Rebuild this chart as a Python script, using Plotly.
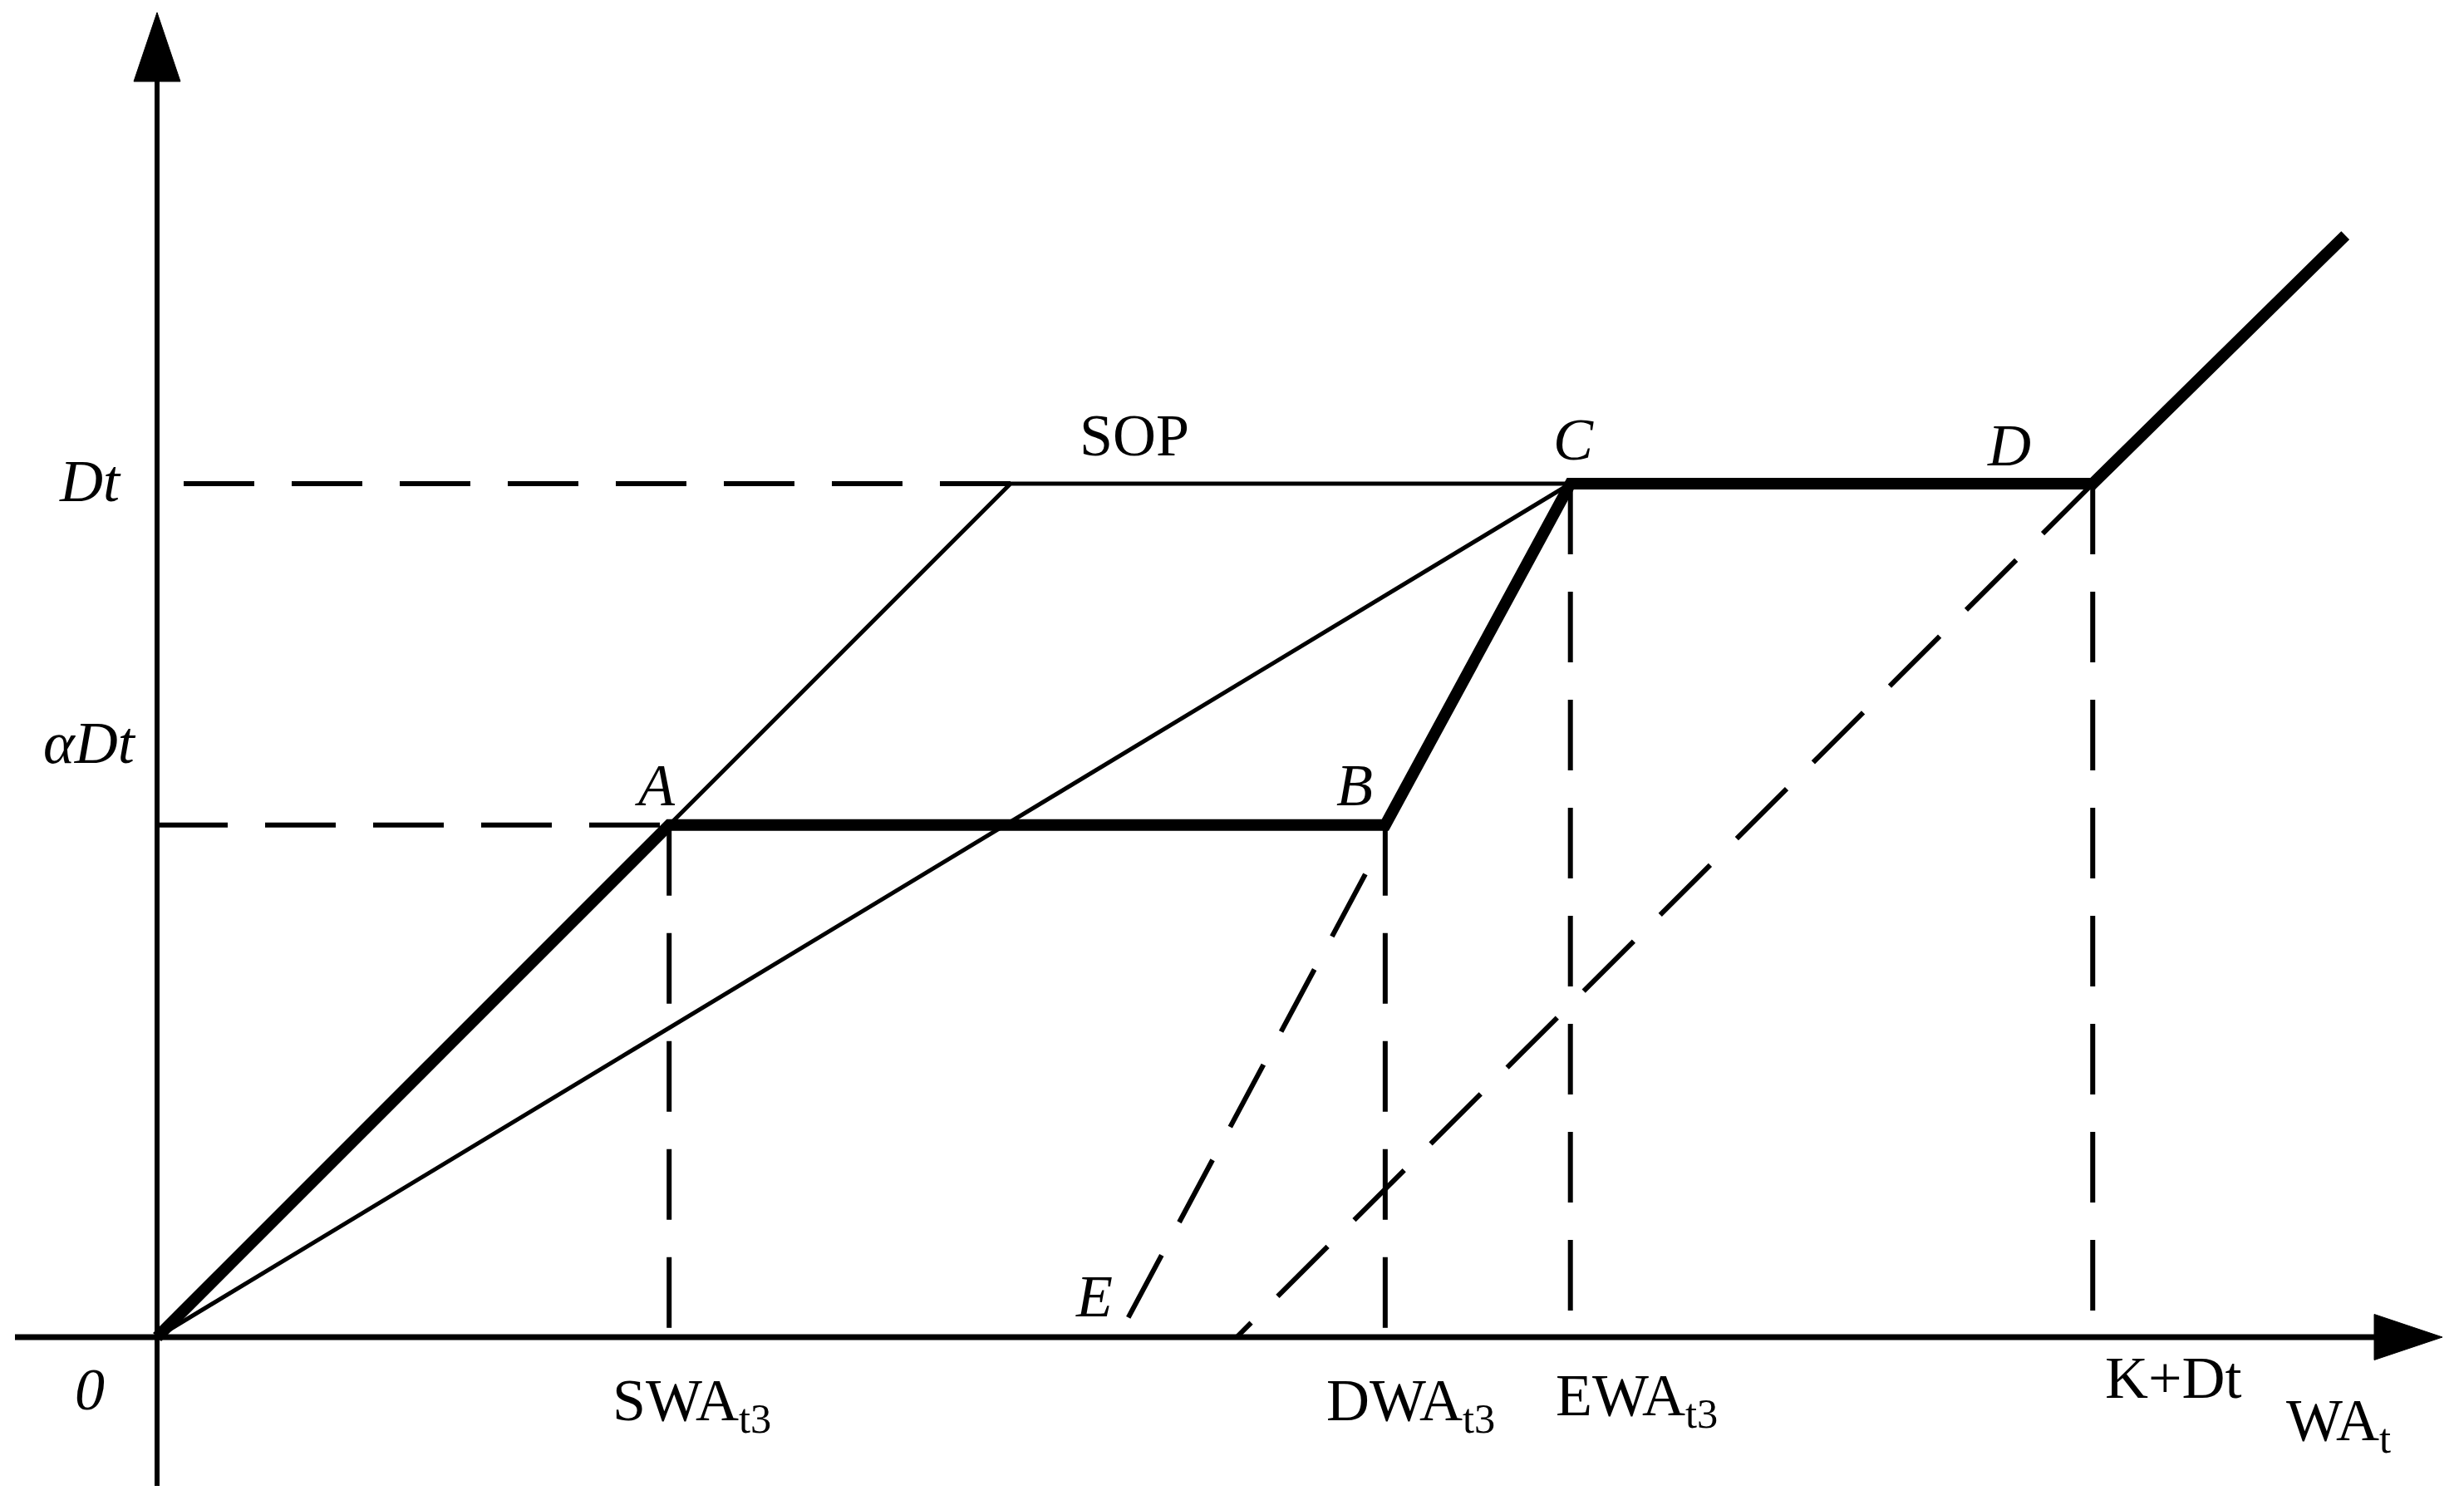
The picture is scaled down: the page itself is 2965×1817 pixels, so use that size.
import plotly.graph_objects as go

# ---------------- data (in units of Dt) ----------------
DT = 1.0            # Dt level
ALPHA_DT = 0.6      # alpha*Dt level

# key abscissae
x_tick_vals = [0.6, 1.439, 1.656, 2.268]
x_tick_tops = [0.6, 0.6, 1.0, 1.0]
x_tick_text = ["SWA<sub>t3</sub>", "DWA<sub>t3</sub>", "EWA<sub>t3</sub>", "K+Dt"]

# thick operating path O-A-B-C-D-end
path_x = [0.0, 0.6, 1.439, 1.656, 2.268, 2.564]
path_y = [0.0, 0.6, 0.6, 1.0, 1.0, 1.291]

# SOP curve (thin)
sop_x = [0.0, 1.0, 1.656]
sop_y = [0.0, 1.0, 1.0]

# thin diagonal O-C
diag_x = [0.0, 1.656]
diag_y = [0.0, 1.0]

# dashed extension of BC through E
e_x = [1.138, 1.424]
e_y = [0.023, 0.558]

# dashed K line (from D down to the axis at K)
k_x = [2.268, 1.265]
k_y = [1.0, 0.0]

# dashed horizontal guides
dt_guide_x = [1.0, 0.0]
dt_guide_y = [1.0, 1.0]
adt_guide_x = [0.0, 0.6]
adt_guide_y = [0.6, 0.6]

# point labels
pt_names = ["A", "B", "C", "D", "E"]
pt_x = [0.6, 1.439, 1.656, 2.268, 1.138]
pt_y = [0.6, 0.6, 1.0, 1.0, 0.023]

# ---------------- layout constants ----------------
PAGE_MARGIN = 8                      # default body margin of the html page
W, H = 2965 - PAGE_MARGIN, 1817 - PAGE_MARGIN
OX, OY = 189 - PAGE_MARGIN, 1609 - PAGE_MARGIN   # pixel position of origin in the figure
UNIT = 1027                          # pixels per Dt unit
x_range = [-OX / UNIT, (W - OX) / UNIT]
y_range = [-(H - OY) / UNIT, OY / UNIT]

FONT = "Liberation Serif, Times New Roman, serif"
FS = 72
BLACK = "#000000"
DASH = "85px,45px"

fig = go.Figure()

def add_line(xs, ys, width, dash=None):
    fig.add_trace(go.Scatter(x=xs, y=ys, mode="lines",
                             line=dict(color=BLACK, width=width, dash=dash),
                             hoverinfo="skip", showlegend=False))

# pixel (reference page) -> data helpers for the axis decorations
px = lambda p: (p - PAGE_MARGIN - OX) / UNIT
py = lambda p: (OY - (p - PAGE_MARGIN)) / UNIT

# axes (with arrow heads)
add_line([px(18), px(2870)], [0, 0], 7)
add_line([0, 0], [py(1788), py(90)], 6)
fig.add_trace(go.Scatter(x=[px(2857), px(2939), px(2857), px(2857)],
                         y=[27.5 / UNIT, 0, -27.5 / UNIT, 27.5 / UNIT],
                         mode="lines", fill="toself", fillcolor=BLACK,
                         line=dict(color=BLACK, width=1), hoverinfo="skip", showlegend=False))
fig.add_trace(go.Scatter(x=[-28 / UNIT, 0, 28 / UNIT, -28 / UNIT],
                         y=[py(98), py(15), py(98), py(98)],
                         mode="lines", fill="toself", fillcolor=BLACK,
                         line=dict(color=BLACK, width=1), hoverinfo="skip", showlegend=False))

# dashed guides
add_line(dt_guide_x, dt_guide_y, 6, DASH)
add_line(adt_guide_x, adt_guide_y, 6, DASH)
for xv, top in zip(x_tick_vals, x_tick_tops):
    add_line([xv, xv], [top, 0.0], 6, DASH)
add_line(e_x, e_y, 6, DASH)
add_line(k_x, k_y, 6, DASH)

# thin lines
add_line(sop_x, sop_y, 5)
add_line(diag_x, diag_y, 5)

# thick path
add_line(path_x, path_y, 14)

ann = []
def label(text, x, y, xs=0, ys=0, italic=False, size=FS):
    ann.append(dict(text=text, x=x, y=y, xref="x", yref="y", xshift=xs, yshift=ys,
                    showarrow=False, xanchor="center", yanchor="middle",
                    font=dict(family=FONT, size=size, color=BLACK,
                              style="italic" if italic else "normal")))

# point labels
pt_shift = [(-17, 48), (-37, 48), (4, 53), (-101, 46), (-41, 25)]
for n, xv, yv, (xs, ys) in zip(pt_names, pt_x, pt_y, pt_shift):
    label(n, xv, yv, xs, ys, italic=True)

# y-side labels
label("Dt", 0, DT, -81, 3, italic=True)
label("\u03b1Dt", 0, ALPHA_DT, -81, 99, italic=True)
label("0", 0, 0, -81, -63, italic=True)

# x-side labels
x_shift = [(27, -81), (31, -81), (80, -75), (97, -49)]
for t, xv, (xs, ys) in zip(x_tick_text, x_tick_vals, x_shift):
    label(t, xv, 0, xs, ys)
label("WA<sub>t</sub>", px(2814), 0, 0, -105)
label("SOP", px(1365), DT, 0, 58)

fig.update_layout(
    width=W, height=H,
    margin=dict(l=0, r=0, t=0, b=0),
    paper_bgcolor="white", plot_bgcolor="white",
    xaxis=dict(range=x_range, visible=False, fixedrange=True),
    yaxis=dict(range=y_range, visible=False, fixedrange=True),
    annotations=ann,
    showlegend=False,
)

fig.write_html("out.html")
